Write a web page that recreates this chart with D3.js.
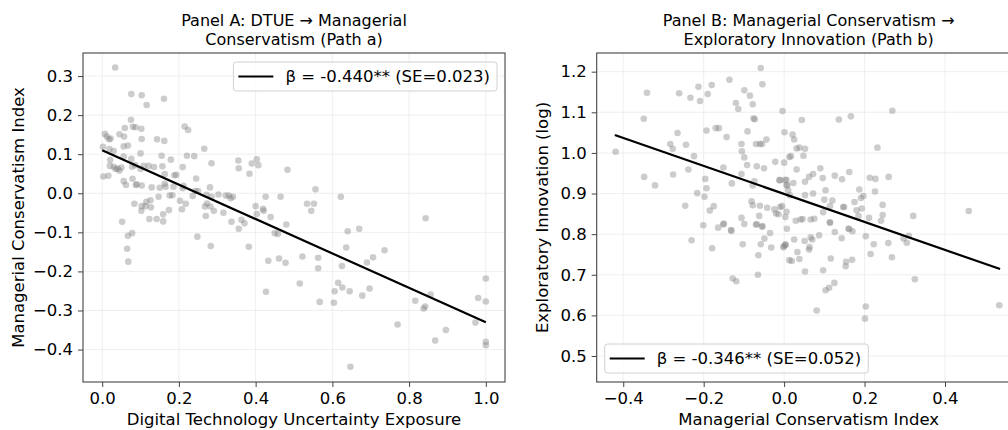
<!DOCTYPE html>
<html><head><meta charset="utf-8">
<script src="https://cdn.jsdelivr.net/npm/d3@7"></script>
<style>body{margin:0;background:#fff} text{font-family:"DejaVu Sans",sans-serif;fill:#000}</style>
</head><body><svg id="c" width="1008" height="430"></svg>
<script>
// ---- Panel A data (DTUE vs Managerial Conservatism) ----
const panelA_x = [0.034,0.076,0.103,0.116,0.161,0.075,0.059,0.080,0.087,0.102,0.007,0.012,0.018,0.022,0.045,0.057,0.103,0.143,0.162,0.002,0.056,0.067,0.215,0.224,0.266,0.019,0.030,0.056,0.100,0.155,0.221,0.240,0.179,0.021,0.076,0.285,0.355,0.403,0.407,0.390,0.483,0.356,0.384,0.020,0.030,0.040,0.035,0.045,0.050,0.078,0.086,0.100,0.108,0.121,0.135,0.157,0.163,0.188,0.193,0.210,0.245,0.003,0.016,0.056,0.062,0.079,0.088,0.090,0.103,0.129,0.150,0.163,0.165,0.183,0.186,0.210,0.212,0.236,0.243,0.250,0.281,0.285,0.272,0.303,0.322,0.330,0.335,0.341,0.316,0.400,0.426,0.419,0.439,0.465,0.403,0.084,0.113,0.127,0.103,0.115,0.126,0.147,0.159,0.176,0.203,0.218,0.208,0.268,0.273,0.282,0.291,0.556,0.622,0.534,0.552,0.545,0.843,0.052,0.067,0.078,0.065,0.068,0.102,0.123,0.142,0.159,0.174,0.248,0.283,0.270,0.337,0.356,0.363,0.371,0.382,0.421,0.450,0.458,0.480,0.433,0.461,0.478,0.427,0.640,0.670,0.636,0.736,0.522,0.563,0.563,0.625,0.690,0.706,0.515,0.615,0.626,0.606,0.645,0.678,0.697,0.567,0.604,0.647,0.770,0.816,0.838,0.842,0.856,0.896,0.868,0.973,0.980,1.000,1.000,1.000,1.000];
const panelA_y = [0.322,0.254,0.251,0.226,0.242,0.188,0.167,0.170,0.169,0.165,0.152,0.145,0.138,0.140,0.151,0.145,0.139,0.138,0.134,0.119,0.120,0.122,0.171,0.162,0.114,0.113,0.108,0.094,0.102,0.096,0.096,0.095,0.086,0.085,0.088,0.077,0.084,0.087,0.072,0.076,0.060,0.064,0.050,0.070,0.068,0.063,0.062,0.058,0.066,0.068,0.072,0.062,0.070,0.070,0.067,0.069,0.049,0.046,0.047,0.067,0.038,0.043,0.045,0.031,0.021,0.037,0.021,0.023,0.020,0.015,0.014,0.024,0.017,-0.005,0.017,0.013,0.019,-0.007,0.006,0.006,0.015,-0.009,-0.004,-0.003,-0.006,-0.006,-0.013,-0.009,-0.050,-0.033,-0.009,-0.040,-0.061,-0.009,-0.053,-0.027,-0.033,-0.036,-0.033,-0.022,-0.018,-0.009,-0.054,-0.006,-0.019,-0.027,-0.041,-0.034,-0.026,-0.034,-0.045,0.010,-0.009,-0.027,-0.027,-0.045,-0.064,-0.073,-0.109,-0.102,-0.142,-0.175,-0.045,-0.066,-0.066,-0.072,-0.043,-0.111,-0.135,-0.058,-0.073,-0.091,-0.068,-0.077,-0.137,-0.045,-0.102,-0.104,-0.080,-0.173,-0.167,-0.178,-0.252,-0.097,-0.091,-0.139,-0.146,-0.162,-0.165,-0.192,-0.186,-0.177,-0.164,-0.231,-0.229,-0.241,-0.251,-0.251,-0.262,-0.244,-0.278,-0.280,-0.444,-0.336,-0.275,-0.295,-0.290,-0.259,-0.350,-0.377,-0.331,-0.268,-0.218,-0.277,-0.380,-0.389];
const panelA_fitX = [0.0, 1.0];
const panelA_fitY = [0.110, -0.330];
const panelA_xTicks = [0.0,0.2,0.4,0.6,0.8,1.0];
const panelA_yTicks = [-0.4,-0.3,-0.2,-0.1,0.0,0.1,0.2,0.3];
const panelA_xLim = [-0.05, 1.05];
const panelA_yLim = [-0.483, 0.359];

// ---- Panel B data (Managerial Conservatism vs Exploratory Innovation) ----
const panelB_x = [-0.419,-0.349,-0.341,-0.348,-0.321,-0.276,-0.283,-0.277,-0.265,-0.244,-0.261,-0.233,-0.209,-0.213,-0.190,-0.180,-0.224,-0.238,-0.193,-0.170,-0.162,-0.136,-0.143,-0.151,-0.196,-0.193,-0.216,-0.198,-0.246,-0.185,-0.175,-0.130,-0.120,-0.114,-0.099,-0.085,-0.078,-0.076,-0.073,-0.058,-0.054,-0.091,-0.106,-0.105,-0.099,-0.070,-0.060,-0.055,-0.044,-0.092,-0.068,-0.050,-0.106,-0.078,-0.074,-0.081,-0.078,-0.060,-0.042,-0.106,-0.099,-0.068,-0.054,-0.062,-0.024,-0.020,-0.014,-0.005,0.003,-0.022,0.000,0.001,-0.004,0.013,-0.012,0.006,0.006,0.014,-0.201,-0.164,-0.150,-0.132,0.021,0.025,0.044,0.136,0.166,0.269,0.232,0.031,0.038,0.052,0.048,0.017,0.031,0.090,0.126,0.144,0.162,0.096,0.072,0.062,0.213,0.227,0.260,-0.010,0.002,0.008,0.023,0.010,0.052,0.052,0.072,0.103,0.100,0.120,0.114,0.147,0.149,0.187,0.191,0.197,0.175,0.180,0.193,0.226,0.245,0.245,0.211,0.185,0.321,0.459,-0.010,0.006,0.029,0.041,0.046,0.066,0.075,0.097,0.114,0.160,-0.230,-0.151,-0.131,-0.179,-0.103,-0.070,-0.055,-0.049,-0.058,-0.035,-0.032,-0.064,-0.065,-0.128,-0.119,0.000,0.003,0.007,0.013,0.025,0.051,0.066,0.070,0.087,0.063,0.062,0.033,0.038,0.019,0.052,-0.002,0.004,0.114,0.126,0.143,0.162,0.170,0.116,0.097,0.154,0.153,0.169,0.103,0.112,0.125,0.081,0.203,0.201,0.203,0.223,0.215,0.241,0.259,0.268,0.297,0.305,0.310,0.325,0.535];
const panelB_y = [1.003,1.084,1.148,0.941,0.920,0.947,1.022,1.010,1.049,1.020,1.147,1.136,1.128,1.163,1.145,1.167,0.992,0.959,1.055,1.061,1.061,1.180,1.039,0.964,0.936,0.913,0.901,0.892,0.870,0.858,0.869,0.925,1.123,1.108,1.154,1.141,1.120,1.085,1.083,1.209,1.169,1.053,1.022,1.004,0.989,1.022,1.022,1.022,1.033,0.970,0.967,0.962,0.948,0.920,0.930,0.881,0.871,0.870,0.865,0.840,0.825,0.825,0.820,0.845,0.861,0.851,0.849,0.869,0.842,0.978,0.976,1.051,1.103,0.990,0.933,0.934,0.920,0.896,0.822,0.816,0.826,0.810,1.045,1.033,1.081,1.082,1.090,1.104,1.013,1.011,1.013,1.010,0.993,0.992,0.959,0.962,0.944,0.935,0.953,0.938,0.948,0.941,0.939,0.936,0.941,0.933,0.933,0.921,0.926,0.908,0.929,0.896,0.900,0.908,0.885,0.883,0.869,0.867,0.867,0.910,0.889,0.894,0.879,0.859,0.863,0.905,0.872,0.847,0.840,0.845,0.845,0.857,0.867,0.855,0.833,0.836,0.837,0.836,0.838,0.854,0.829,0.814,0.785,0.824,0.808,0.765,0.775,0.823,0.818,0.789,0.775,0.803,0.767,0.748,0.700,0.691,0.684,0.770,0.775,0.813,0.736,0.787,0.783,0.792,0.787,0.797,0.768,0.762,0.756,0.739,0.734,0.708,0.768,0.773,0.828,0.805,0.790,0.812,0.807,0.740,0.711,0.732,0.721,0.737,0.662,0.668,0.680,0.612,0.622,0.592,0.795,0.775,0.751,0.833,0.778,0.743,0.789,0.779,0.796,0.689,0.625];
const panelB_fitX = [-0.421, 0.537];
const panelB_fitY = [1.044, 0.714];
const panelB_xTicks = [-0.4,-0.2,0.0,0.2,0.4];
const panelB_yTicks = [0.5,0.6,0.7,0.8,0.9,1.0,1.1,1.2];
const panelB_xLim = [-0.466, 0.588];
const panelB_yLim = [0.436, 1.246];

const panels = [
  {x:panelA_x, y:panelA_y, fx:panelA_fitX, fy:panelA_fitY, xt:panelA_xTicks, yt:panelA_yTicks, xl:panelA_xLim, yl:panelA_yLim,
   title:["Panel A: DTUE \u2192 Managerial","Conservatism (Path a)"], xlabel:"Digital Technology Uncertainty Exposure",
   ylabel:"Managerial Conservatism Index", legend:"\u03b2 = -0.440** (SE=0.023)",
   box:{l:83,r:505,t:53,b:382}, ylabX:18, leg:{pos:"tr"}},
  {x:panelB_x, y:panelB_y, fx:panelB_fitX, fy:panelB_fitY, xt:panelB_xTicks, yt:panelB_yTicks, xl:panelB_xLim, yl:panelB_yLim,
   title:["Panel B: Managerial Conservatism \u2192","Exploratory Innovation (Path b)"], xlabel:"Managerial Conservatism Index",
   ylabel:"Exploratory Innovation (log)", legend:"\u03b2 = -0.346** (SE=0.052)",
   box:{l:596.7,r:1020.6,t:53,b:382}, ylabX:542, leg:{pos:"bl"}}
];

const svg = d3.select("#c");
const FS = 16.5, TFS = 16;
const fmt = d3.format(".1f");

panels.forEach(p => {
  const B = p.box;
  const xs = d3.scaleLinear().domain(p.xl).range([B.l, B.r]);
  const ys = d3.scaleLinear().domain(p.yl).range([B.b, B.t]);
  const g = svg.append("g");

  g.selectAll(".gx").data(p.xt).join("line")
    .attr("x1", d=>xs(d)).attr("x2", d=>xs(d)).attr("y1", B.t).attr("y2", B.b)
    .attr("stroke", "#ebebeb").attr("stroke-width", 0.8);
  g.selectAll(".gy").data(p.yt).join("line")
    .attr("y1", d=>ys(d)).attr("y2", d=>ys(d)).attr("x1", B.l).attr("x2", B.r)
    .attr("stroke", "#ebebeb").attr("stroke-width", 0.8);

  const pts = p.x.map((v,i)=>[v, p.y[i]]);
  g.selectAll("circle").data(pts).join("circle")
    .attr("cx", d=>xs(d[0])).attr("cy", d=>ys(d[1])).attr("r", 3.3)
    .attr("fill", "#808080").attr("fill-opacity", 0.4);

  g.append("path").datum(p.fx.map((v,i)=>[v,p.fy[i]]))
    .attr("d", d3.line().x(d=>xs(d[0])).y(d=>ys(d[1])))
    .attr("stroke", "#000").attr("stroke-width", 2.2).attr("fill", "none");

  g.append("rect").attr("x", B.l).attr("y", B.t).attr("width", B.r-B.l).attr("height", B.b-B.t)
    .attr("fill", "none").attr("stroke", "#444").attr("stroke-width", 1.1);

  const xa = g.append("g").attr("transform", `translate(0,${B.b})`)
    .call(d3.axisBottom(xs).tickValues(p.xt).tickFormat(fmt).tickSizeOuter(0).tickSize(5).tickPadding(5));
  const ya = g.append("g").attr("transform", `translate(${B.l},0)`)
    .call(d3.axisLeft(ys).tickValues(p.yt).tickFormat(fmt).tickSizeOuter(0).tickSize(5).tickPadding(5));
  [xa, ya].forEach(a => {
    a.select(".domain").remove();
    a.selectAll("line").attr("stroke", "#444").attr("stroke-width", 1);
    a.selectAll("text").attr("font-size", FS).attr("font-family", "DejaVu Sans").attr("fill", "#000");
  });

  const cx = (B.l + B.r) / 2;
  p.title.forEach((t,i) => g.append("text").attr("x", cx).attr("y", 26 + i*19)
    .attr("text-anchor", "middle").attr("font-size", TFS).text(t));
  g.append("text").attr("x", cx).attr("y", 425).attr("text-anchor", "middle").attr("font-size", FS).text(p.xlabel);
  g.append("text").attr("transform", `translate(${p.ylabX},${(B.t+B.b)/2}) rotate(-90)`)
    .attr("text-anchor", "middle").attr("dy", "0.35em").attr("font-size", FS).text(p.ylabel);

  const lg = g.append("g");
  const txt = lg.append("text").attr("font-size", FS).text(p.legend);
  const tw = txt.node().getComputedTextLength();
  const w = 5 + 35 + 12 + tw + 7, h = 29;
  let lx, ly;
  if (p.leg.pos === "tr") { lx = B.r - 8 - w; ly = B.t + 9; } else { lx = B.l + 8; ly = B.b - 9 - h; }
  lg.insert("rect", "text").attr("x", lx).attr("y", ly).attr("width", w).attr("height", h).attr("rx", 3)
    .attr("fill", "#fff").attr("fill-opacity", 0.8).attr("stroke", "#d0d0d0").attr("stroke-width", 1);
  lg.append("line").attr("x1", lx+5).attr("x2", lx+40).attr("y1", ly+h/2).attr("y2", ly+h/2)
    .attr("stroke", "#000").attr("stroke-width", 2.2);
  txt.attr("x", lx + 52).attr("y", ly + h/2).attr("dy", "0.35em");
});
</script></body></html>
